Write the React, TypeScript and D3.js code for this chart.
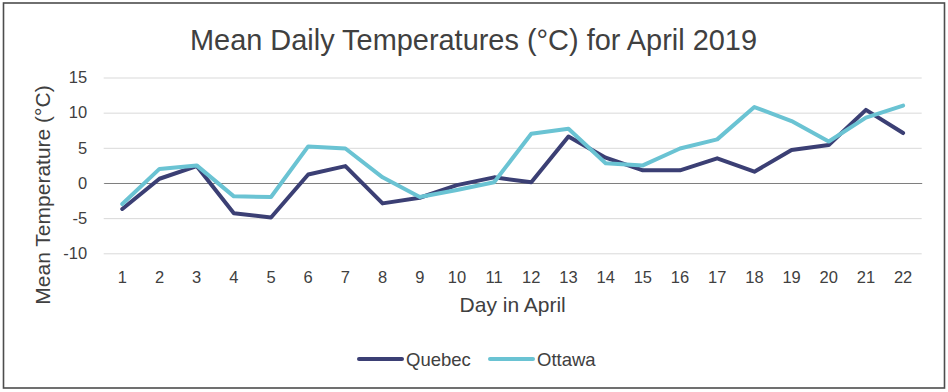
import { select, scaleBand, scaleLinear, axisBottom, axisLeft, line } from "d3";
import React, { useEffect, useRef } from "react";

const days = [
  "1", "2", "3", "4", "5", "6", "7", "8", "9", "10", "11",
  "12", "13", "14", "15", "16", "17", "18", "19", "20", "21", "22",
];
const quebec = [
  -3.7, 0.6, 2.4, -4.3, -4.9, 1.2, 2.4, -2.9, -2.1, -0.3, 0.8,
  0.1, 6.6, 3.6, 1.8, 1.8, 3.5, 1.6, 4.7, 5.4, 10.4, 7.1,
];
const ottawa = [
  -3.0, 2.0, 2.5, -1.9, -2.0, 5.2, 4.9, 0.8, -2.0, -1.0, 0.1,
  7.0, 7.7, 2.8, 2.5, 4.9, 6.2, 10.8, 8.8, 5.9, 9.3, 11.0,
];
const yTicks = [-10, -5, 0, 5, 10, 15];
const series = [
  { name: "Quebec", values: quebec, color: "#3b3f74" },
  { name: "Ottawa", values: ottawa, color: "#6ac3d3" },
];

const W = 948;
const H = 392;
const FONT = "'Liberation Sans', Arial, sans-serif";
const TEXT = "#404040";

const App = () => {
  const chartRef = useRef<SVGSVGElement>(null);

  useEffect(() => {
    if (!chartRef.current) return;
    const svg = select(chartRef.current);
    svg.selectAll("*").remove();

    // 바깥 테두리
    svg
      .append("rect")
      .attr("x", 3.5)
      .attr("y", 3)
      .attr("width", W - 7)
      .attr("height", H - 7)
      .attr("fill", "#fff")
      .attr("stroke", "#4d4d4d")
      .attr("stroke-width", 1.6);

    // 제목
    svg
      .append("text")
      .attr("x", 473.5)
      .attr("y", 50)
      .attr("text-anchor", "middle")
      .attr("font-family", FONT)
      .attr("font-size", 30)
      .attr("textLength", 567)
      .attr("lengthAdjust", "spacingAndGlyphs")
      .attr("fill", TEXT)
      .text("Mean Daily Temperatures (°C) for April 2019");

    const margin = { top: 77.5, left: 103.7 };
    const width = 818;
    const height = 175.8;
    const g = svg
      .append("g")
      .attr("transform", `translate(${margin.left},${margin.top})`);

    const x = scaleBand().range([0, width]).domain(days);
    const y = scaleLinear().range([height, 0]).domain([-10, 15]);

    // 격자선
    const yAxis = g
      .append("g")
      .call(
        axisLeft(y)
          .tickValues(yTicks)
          .tickSize(-width)
          .tickPadding(16.5)
          .tickFormat((d) => String(d))
      );
    yAxis.select(".domain").remove();
    yAxis
      .selectAll(".tick line")
      .attr("stroke", "#d9d9d9")
      .attr("stroke-width", 1);
    yAxis
      .selectAll(".tick text")
      .attr("font-family", FONT)
      .attr("font-size", 16.5)
      .attr("fill", TEXT);

    // 0 기준선 + x축
    const xAxis = g
      .append("g")
      .attr("transform", `translate(0,${y(0)})`)
      .call(axisBottom(x).tickSize(0).tickPadding(y(-10) - y(0) + 17.5));
    xAxis.select(".domain").attr("stroke", "#7f7f7f").attr("stroke-width", 1.2);
    xAxis
      .selectAll(".tick text")
      .attr("font-family", FONT)
      .attr("font-size", 16.5)
      .attr("fill", TEXT);

    // 선 생성
    const lineGen = line<number>()
      .x((_, i) => x(days[i])! + x.bandwidth() / 2)
      .y((d) => y(d));

    series.forEach((s) => {
      g.append("path")
        .datum(s.values)
        .attr("fill", "none")
        .attr("stroke", s.color)
        .attr("stroke-width", 4)
        .attr("stroke-linejoin", "round")
        .attr("stroke-linecap", "round")
        .attr("d", lineGen);
    });

    // 축 제목
    svg
      .append("text")
      .attr("x", 512.7)
      .attr("y", 312.3)
      .attr("text-anchor", "middle")
      .attr("font-family", FONT)
      .attr("font-size", 21)
      .attr("fill", TEXT)
      .text("Day in April");

    svg
      .append("text")
      .attr("transform", "translate(50,195) rotate(-90)")
      .attr("text-anchor", "middle")
      .attr("font-family", FONT)
      .attr("font-size", 21)
      .attr("fill", TEXT)
      .text("Mean Temperature (°C)");

    // 범례
    const legendX = [359, 490];
    series.forEach((s, i) => {
      const lg = svg.append("g").attr("transform", `translate(${legendX[i]},359)`);
      lg.append("line")
        .attr("x1", 0)
        .attr("x2", 43)
        .attr("stroke", s.color)
        .attr("stroke-width", 4)
        .attr("stroke-linecap", "round");
      lg.append("text")
        .attr("x", 47)
        .attr("y", 7)
        .attr("font-family", FONT)
        .attr("font-size", 18.5)
        .attr("fill", TEXT)
        .text(s.name);
    });
  }, []);

  return (
    <React.Fragment>
      <svg
        ref={chartRef}
        width={W}
        height={H}
        style={{ position: "absolute", left: 0, top: 0 }}
      ></svg>
    </React.Fragment>
  );
};

export default App;
